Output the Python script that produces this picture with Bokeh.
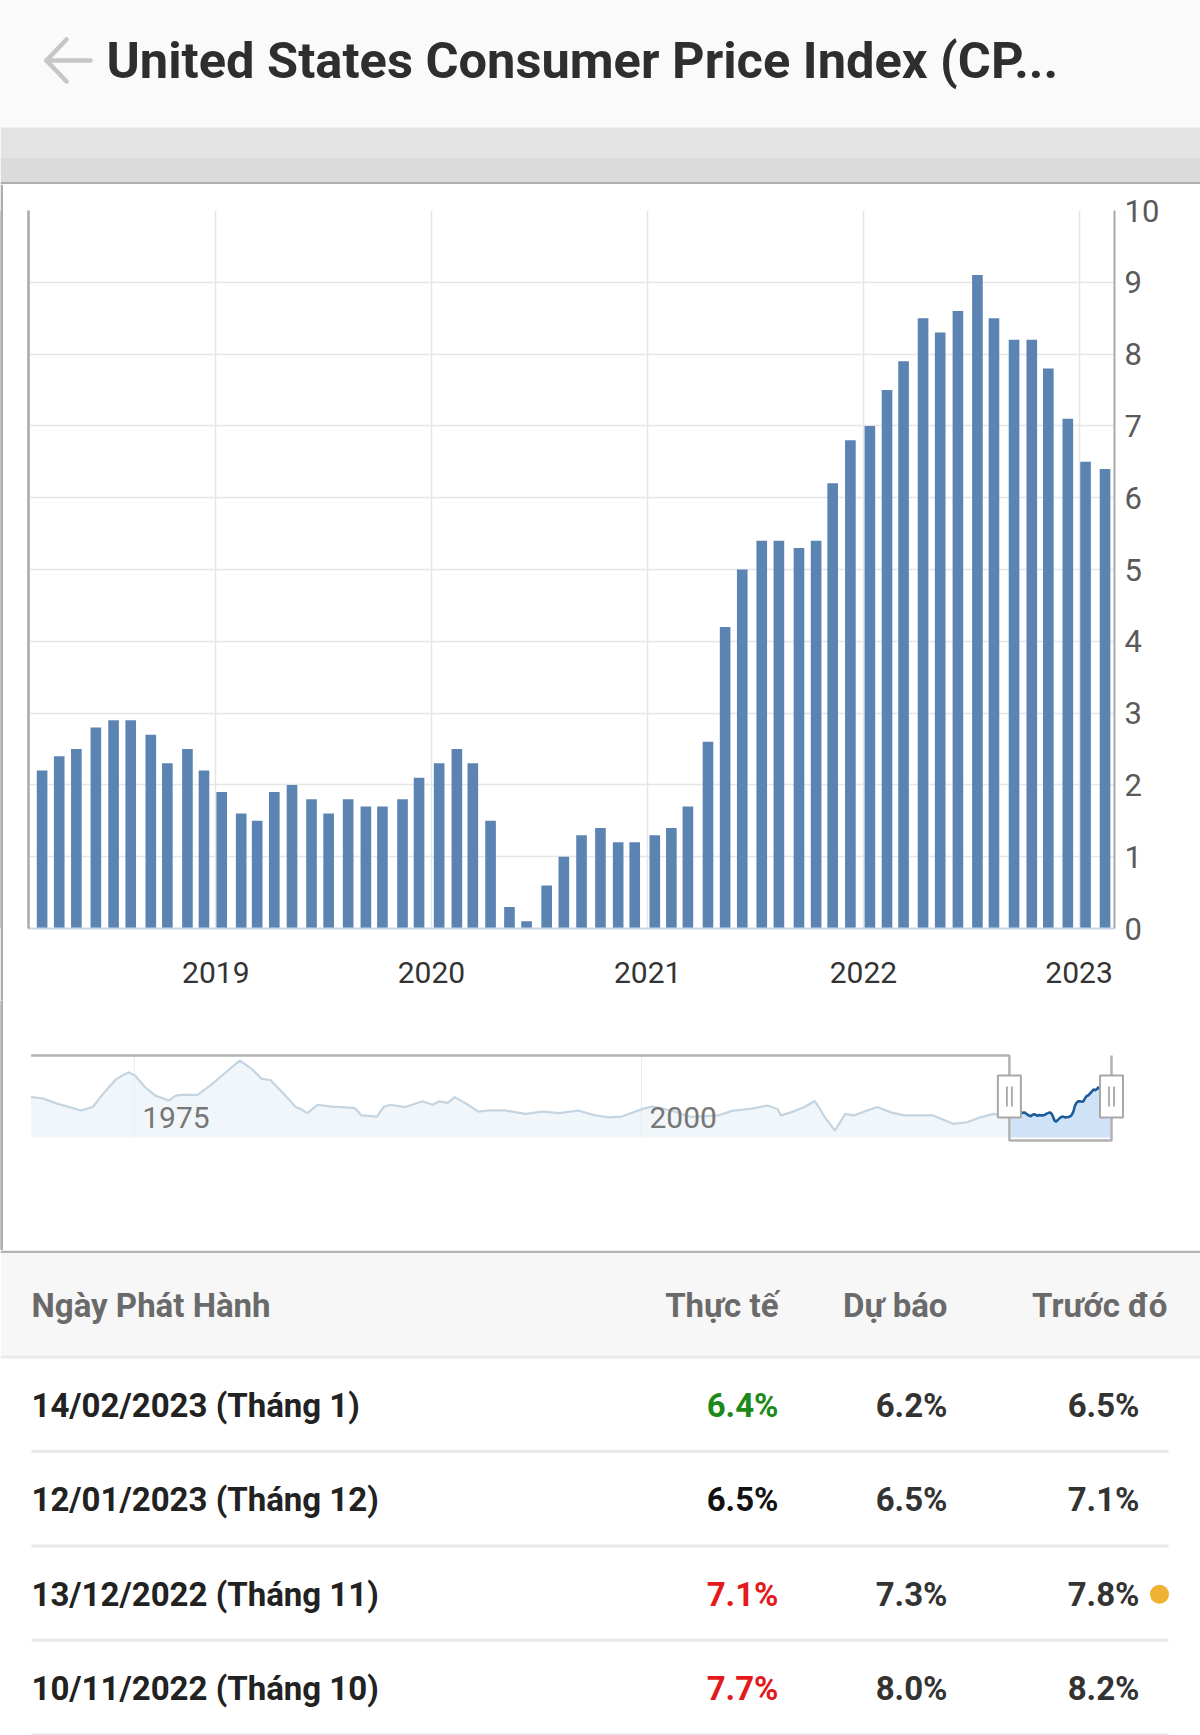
from datetime import datetime
from bokeh.plotting import figure
from bokeh.layouts import column, row
from bokeh.models import Range1d, FixedTicker, DatetimeTickFormatter, LinearAxis
from bokeh.core.properties import value
from bokeh.embed import file_html
from bokeh.resources import INLINE

# ---------------- data ----------------
TITLE = "United States Consumer Price Index (CP..."

release_dates = [
    "2018-03-13", "2018-04-11", "2018-05-10", "2018-06-12", "2018-07-12", "2018-08-10",
    "2018-09-13", "2018-10-11", "2018-11-14", "2018-12-12", "2019-01-11", "2019-02-13",
    "2019-03-12", "2019-04-10", "2019-05-10", "2019-06-12", "2019-07-11", "2019-08-13",
    "2019-09-12", "2019-10-10", "2019-11-13", "2019-12-11", "2020-01-14", "2020-02-13",
    "2020-03-11", "2020-04-10", "2020-05-12", "2020-06-10", "2020-07-14", "2020-08-12",
    "2020-09-11", "2020-10-13", "2020-11-12", "2020-12-10", "2021-01-13", "2021-02-10",
    "2021-03-10", "2021-04-13", "2021-05-12", "2021-06-10", "2021-07-13", "2021-08-11",
    "2021-09-14", "2021-10-13", "2021-11-10", "2021-12-10", "2022-01-12", "2022-02-10",
    "2022-03-10", "2022-04-12", "2022-05-11", "2022-06-10", "2022-07-13", "2022-08-10",
    "2022-09-13", "2022-10-13", "2022-11-10", "2022-12-13", "2023-01-12", "2023-02-14",
]
cpi_yoy = [
    2.2, 2.4, 2.5, 2.8, 2.9, 2.9, 2.7, 2.3, 2.5, 2.2, 1.9, 1.6,
    1.5, 1.9, 2.0, 1.8, 1.6, 1.8, 1.7, 1.7, 1.8, 2.1, 2.3, 2.5,
    2.3, 1.5, 0.3, 0.1, 0.6, 1.0, 1.3, 1.4, 1.2, 1.2, 1.3, 1.4,
    1.7, 2.6, 4.2, 5.0, 5.4, 5.4, 5.3, 5.4, 6.2, 6.8, 7.0, 7.5,
    7.9, 8.5, 8.3, 8.6, 9.1, 8.5, 8.2, 8.2, 7.8, 7.1, 6.5, 6.4,
]
main_start = "2018-02-18"
main_end = "2023-03-02"
year_ticks = ["2019-01-01", "2020-01-01", "2021-01-01", "2022-01-01", "2023-01-01"]
y_ticks = [0, 1, 2, 3, 4, 5, 6, 7, 8, 9, 10]

# navigator (long history)
nav_dates = [
    "1969-12-01", "1970-06-15", "1971-03-15", "1971-10-15", "1972-05-15", "1972-12-15",
    "1973-07-15", "1974-02-15", "1974-09-15", "1975-01-15", "1975-07-15", "1976-01-15",
    "1976-09-15", "1977-01-15", "1977-05-15", "1978-02-15", "1978-10-15", "1979-08-15",
    "1980-03-15", "1980-10-15", "1981-04-15", "1981-09-15", "1982-06-15", "1982-12-15",
    "1983-03-15", "1983-07-15", "1984-01-15", "1984-09-15", "1985-03-15", "1985-11-15",
    "1986-03-15", "1986-12-15", "1987-04-15", "1987-08-15", "1988-05-15", "1989-03-15",
    "1989-09-15", "1990-01-15", "1990-06-15", "1990-10-15", "1991-05-15", "1991-12-15",
    "1992-06-15", "1993-04-15", "1994-04-15", "1995-02-15", "1995-12-15", "1996-11-15",
    "1997-09-15", "1998-05-15", "1999-01-15", "2000-01-15", "2000-07-15", "2001-06-15",
    "2002-06-15", "2003-10-15", "2004-06-15", "2005-06-15", "2006-03-15", "2006-09-15",
    "2006-11-15", "2007-05-15", "2008-01-15", "2008-07-15", "2008-10-15", "2009-01-15",
    "2009-07-15", "2010-01-15", "2010-06-15", "2011-02-15", "2011-08-15", "2012-04-15",
    "2012-12-15", "2013-10-15", "2014-05-15", "2015-05-15", "2016-01-15", "2016-09-15",
    "2017-05-15", "2017-09-15",
]
nav_values = [
    6.5, 6.2, 4.8, 3.9, 3.0, 3.9,
    7.8, 11.3, 13.0, 12.2, 9.1, 6.9,
    5.6, 6.9, 7.1, 7.1, 9.7, 13.5,
    16.1, 13.9, 11.3, 11.0, 6.9, 3.9,
    3.4, 2.3, 4.5, 4.0, 3.9, 3.6,
    1.7, 1.4, 3.9, 4.5, 3.9, 5.4,
    4.5, 5.4, 5.0, 6.5, 4.8, 2.7,
    3.0, 3.0, 2.1, 2.7, 2.3, 3.0,
    1.7, 1.2, 1.4, 3.4, 4.0, 3.0,
    1.3, 1.7, 2.9, 3.5, 4.3, 3.4,
    1.7, 2.5, 3.9, 5.5, 3.4, 1.2,
    -2.3, 2.1, 1.7, 3.0, 3.9, 2.5,
    1.7, 1.7, 1.7, -0.5, -0.1, 1.2,
    2.1, 1.7,
]
nav_tick_dates = ["1975-01-01", "2000-01-01"]
nav_tick_labels = ["1975", "2000"]

# table
tbl_headers = ["Ngày Phát Hành", "Thực tế", "Dự báo", "Trước đó"]
tbl_release = ["14/02/2023 (Tháng 1)", "12/01/2023 (Tháng 12)",
               "13/12/2022 (Tháng 11)", "10/11/2022 (Tháng 10)"]
tbl_actual = ["6.4%", "6.5%", "7.1%", "7.7%"]
tbl_actual_colors = ["#1b8a1b", "#111111", "#e3191c", "#e3191c"]
tbl_forecast = ["6.2%", "6.5%", "7.3%", "8.0%"]
tbl_previous = ["6.5%", "7.1%", "7.8%", "8.2%"]
tbl_revised = [False, False, True, False]

# ---------------- helpers ----------------
EPOCH = datetime(1970, 1, 1)


def to_ms(s):
    return (datetime.strptime(s, "%Y-%m-%d") - EPOCH).total_seconds() * 1000.0


DAY = 86400000.0
FONT = value("Roboto")


def plain_fig(w, h, xr, yr, bg):
    f = figure(width=w, height=h, x_range=xr, y_range=yr,
               output_backend="svg", toolbar_location=None, min_border=0,
               x_axis_location=None, y_axis_location=None, outline_line_color=None,
               background_fill_color=bg, border_fill_color=bg)
    f.grid.visible = False
    return f


# ---------------- header ----------------
hdr = plain_fig(1200, 184, Range1d(0, 1200), Range1d(184, 0), "#fafafa")
hdr.quad(left=[0, 0, 0], right=[1200, 1200, 1200], top=[127, 157, 181.5], bottom=[157, 181.5, 184],
         fill_color=["#e3e3e3", "#dbdbdb", "#aeaeae"], line_color=None)
hdr.segment(x0=[46, 46, 46], y0=[60, 60, 60], x1=[90, 66, 66], y1=[60, 39, 81],
            line_color="#c6c6c6", line_width=4.5, line_cap="round")
hdr.text(x=[106], y=[60], text=[TITLE], text_font=FONT, text_font_style="bold",
         text_font_size="50.6px", text_color="#2e2e2e", text_baseline="middle")

# ---------------- left panel border strips ----------------
strips = []
for h in (816, 250):
    s = plain_fig(3, h, Range1d(0, 1), Range1d(0, 1), "#acacac")
    s.quad(left=[0], right=[1], top=[1], bottom=[0], fill_color="#acacac", line_color=None)
    strips.append(s)

# ---------------- main chart ----------------
bar_x = [datetime.strptime(d, "%Y-%m-%d") for d in release_dates]
p = figure(width=1197, height=816, x_axis_type="datetime", y_axis_location="right",
           x_range=Range1d(to_ms(main_start), to_ms(main_end)), y_range=Range1d(0, 10),
           output_backend="svg", toolbar_location=None,
           min_border_left=25, min_border_right=86, min_border_top=26, min_border_bottom=72,
           outline_line_color=None, background_fill_color="white", border_fill_color="white")
p.vbar(x=bar_x, top=cpi_yoy, bottom=0, width=18 * DAY, fill_color="#5b84b3", line_color=None)

yt = FixedTicker(ticks=y_ticks)
xt = FixedTicker(ticks=[to_ms(d) for d in year_ticks])
p.yaxis.ticker = yt
p.yaxis.major_label_text_font = "Roboto"
p.yaxis.major_label_text_font_size = "31px"
p.yaxis.major_label_text_color = "#5a5a5a"
p.yaxis.axis_line_color = "#a9a9a9"
p.yaxis.axis_line_width = 2
p.yaxis.major_tick_line_color = None
p.yaxis.minor_tick_line_color = None
p.yaxis.major_label_standoff = 4

p.xaxis.ticker = xt
p.xaxis.formatter = DatetimeTickFormatter(years="%Y", months="%Y", days="%Y", hours="%Y")
p.xaxis.major_label_text_font = "Roboto"
p.xaxis.major_label_text_font_size = "30px"
p.xaxis.major_label_text_color = "#333333"
p.xaxis.axis_line_color = "#ccd6eb"
p.xaxis.axis_line_width = 2
p.xaxis.major_tick_line_color = None
p.xaxis.minor_tick_line_color = None
p.xaxis.major_label_standoff = 27

p.xgrid.ticker = xt
p.ygrid.ticker = yt
p.grid.grid_line_color = "#e6e6e6"
p.grid.grid_line_width = 1.5

left_line = LinearAxis(ticker=FixedTicker(ticks=[]), major_label_text_font_size="0px",
                       axis_line_color="#a9a9a9", axis_line_width=2.5,
                       major_tick_line_color=None, minor_tick_line_color=None)
p.add_layout(left_line, "left")

# ---------------- navigator ----------------
NAV_PX_LEFT, NAV_PX_RIGHT = 30.6, 1111.0     # page px of navigator ends
NAV_ZERO_Y, NAV_PX_PER_UNIT = 1121.4, 3.81   # page px of value 0, px per unit
NAV_FIG_TOP, NAV_FIG_BOTTOM = 1000.0, 1250.0

nav_start_ms = to_ms(nav_dates[0])
nav_end_ms = to_ms(main_end)
ms_per_px = (nav_end_ms - nav_start_ms) / (NAV_PX_RIGHT - NAV_PX_LEFT)
nx0 = nav_start_ms - (NAV_PX_LEFT - 3) * ms_per_px
nx1 = nav_end_ms + (1200 - NAV_PX_RIGHT) * ms_per_px


def nav_v(page_y):
    return (NAV_ZERO_Y - page_y) / NAV_PX_PER_UNIT


nav_top = nav_v(1055)
nav_bottom = nav_v(1137)
sel_bottom = nav_v(1140)

nav = plain_fig(1197, 250, Range1d(nx0, nx1), Range1d(nav_v(NAV_FIG_BOTTOM), nav_v(NAV_FIG_TOP)), "white")

hist_x = [datetime.strptime(d, "%Y-%m-%d") for d in nav_dates] + [bar_x[0]]
hist_y = nav_values + [cpi_yoy[0]]
nav.varea(x=hist_x, y1=nav_bottom, y2=hist_y, fill_color="#f1f6fb")
nav.varea(x=bar_x, y1=nav_bottom, y2=cpi_yoy, fill_color="#cfe2f6")
tick_ms = [to_ms(d) for d in nav_tick_dates]
nav.segment(x0=tick_ms, x1=tick_ms, y0=nav_bottom, y1=nav_top, line_color="#ececec", line_width=1)
nav.line(x=hist_x, y=hist_y, line_color="#c4d4e0", line_width=2.2)
nav.line(x=bar_x, y=cpi_yoy, line_color="#1d5c9c", line_width=2.6)

sel_start_ms = to_ms(main_start)
sel_end_ms = to_ms(main_end)
nav.line(x=[nav_start_ms, sel_start_ms, sel_start_ms, sel_end_ms, sel_end_ms],
         y=[nav_top, nav_top, sel_bottom, sel_bottom, nav_top],
         line_color="#b2b2b2", line_width=2.5)
handle_y = nav_v(1096)
nav.rect(x=[sel_start_ms, sel_end_ms], y=handle_y, width=23, height=42,
         width_units="screen", height_units="screen",
         fill_color="white", line_color="#a8a8a8", line_width=2)
grip_x = [sel_start_ms - 2.5 * ms_per_px, sel_start_ms + 2.5 * ms_per_px,
          sel_end_ms - 2.5 * ms_per_px, sel_end_ms + 2.5 * ms_per_px]
nav.rect(x=grip_x, y=handle_y, width=1.8, height=20, width_units="screen", height_units="screen",
         fill_color="#a8a8a8", line_color=None)
nav.text(x=tick_ms, y=nav_v(1116.5), text=nav_tick_labels, x_offset=8,
         text_font=FONT, text_font_size="30px", text_color="#777777",
         text_baseline="middle", text_align="left")

# ---------------- table ----------------
tb = plain_fig(1200, 485, Range1d(0, 1200), Range1d(1735, 1250), "white")
tb.quad(left=[0, 0, 0], right=[1200, 1200, 1200], top=[1250, 1252.5, 1355],
        bottom=[1252.5, 1355, 1358], fill_color=["#b4b4b4", "#f7f7f7", "#e9e9e9"], line_color=None)

HEAD_Y = 1305
ROW_Y0, ROW_H = 1405, 94.4
COL_LEFT = 31
COL_RIGHT = [778, 947, 1139]
HEAD_RIGHT = [778, 947, 1167]
rows_y = [ROW_Y0 + i * ROW_H for i in range(len(tbl_release))]

tb.text(x=[COL_LEFT], y=[HEAD_Y], text=[tbl_headers[0]], text_font=FONT, text_font_style="bold",
        text_font_size="33px", text_color="#6a6a6a", text_baseline="middle", text_align="left")
tb.text(x=HEAD_RIGHT, y=[HEAD_Y] * 3, text=tbl_headers[1:], text_font=FONT, text_font_style="bold",
        text_font_size="33px", text_color="#6a6a6a", text_baseline="middle", text_align="right")

sep_y = [y + 46 for y in rows_y]
tb.segment(x0=COL_LEFT, x1=1168, y0=sep_y, y1=sep_y, line_color="#e8e8e8", line_width=3)

tb.text(x=[COL_LEFT] * 4, y=rows_y, text=tbl_release, text_font=FONT, text_font_style="bold",
        text_font_size="33px", text_color="#222222", text_baseline="middle", text_align="left")
tb.text(x=[COL_RIGHT[0]] * 4, y=rows_y, text=tbl_actual, text_font=FONT, text_font_style="bold",
        text_font_size="33px", text_color=tbl_actual_colors, text_baseline="middle", text_align="right")
tb.text(x=[COL_RIGHT[1]] * 4, y=rows_y, text=tbl_forecast, text_font=FONT, text_font_style="bold",
        text_font_size="33px", text_color="#333333", text_baseline="middle", text_align="right")
tb.text(x=[COL_RIGHT[2]] * 4, y=rows_y, text=tbl_previous, text_font=FONT, text_font_style="bold",
        text_font_size="33px", text_color="#333333", text_baseline="middle", text_align="right")
rev_y = [y for y, r in zip(rows_y, tbl_revised) if r]
tb.scatter(x=[1159] * len(rev_y), y=rev_y, size=19, marker="circle",
           fill_color="#efb234", line_color=None)

layout = column(hdr, row(strips[0], p, spacing=0), row(strips[1], nav, spacing=0), tb, spacing=0)

open("out.html", "w").write(file_html(layout, INLINE))
